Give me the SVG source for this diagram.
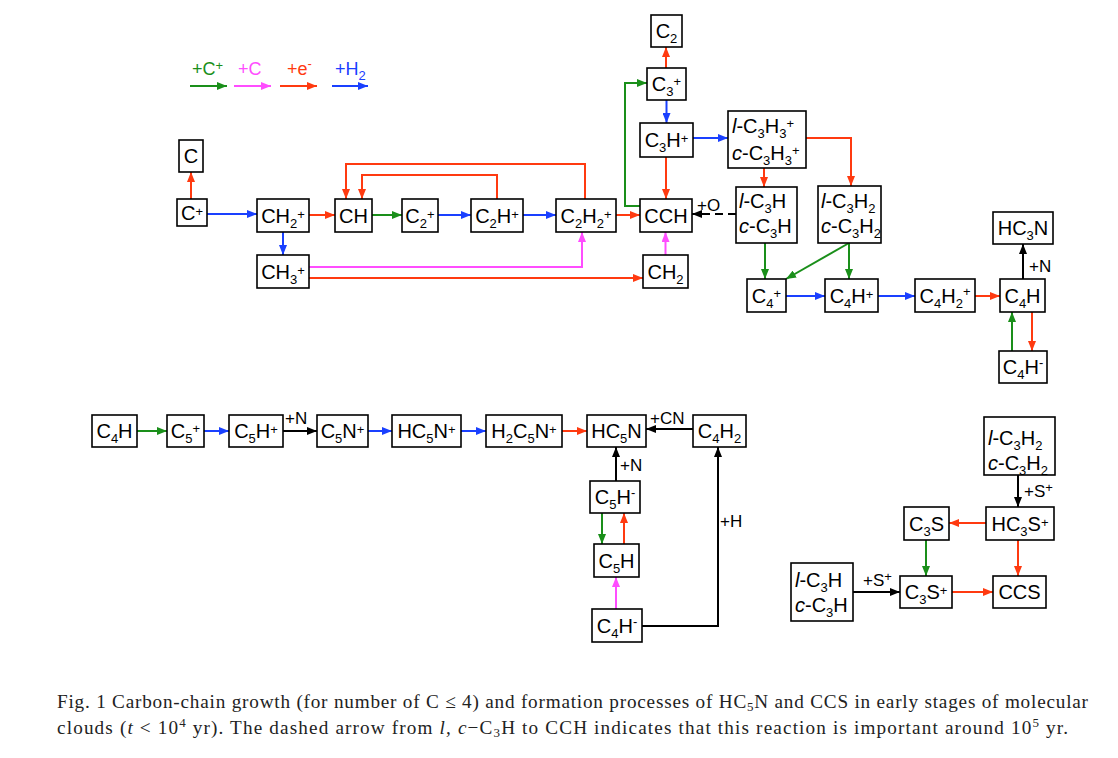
<svg xmlns="http://www.w3.org/2000/svg" width="1118" height="758" viewBox="0 0 1118 758">
<style>
.n{fill:#fff;stroke:#000;stroke-width:1.6}
.t{font-family:"Liberation Sans",Arial,sans-serif;font-size:20px;fill:#000;text-anchor:middle}
.tl{font-family:"Liberation Sans",Arial,sans-serif;font-size:20px;fill:#000}
.s{font-size:13px}
.lb{font-family:"Liberation Sans",Arial,sans-serif;font-size:17px;fill:#000}
.lg{font-family:"Liberation Sans",Arial,sans-serif;font-size:18px}
.cap{font-family:"Liberation Serif","Times New Roman",serif;font-size:19.2px;fill:#222}
.c{fill:none;stroke-width:2}
.g{stroke:#1A8F1A}.r{stroke:#FF3A10}.b{stroke:#1A40FF}.p{stroke:#FF4DFF}.k{stroke:#000}
</style>
<defs>
<marker id="ag" viewBox="0 0 10 8" refX="10" refY="4" markerWidth="10" markerHeight="8" markerUnits="userSpaceOnUse" orient="auto"><path d="M0,0L10,4L0,8z" fill="#1A8F1A"/></marker>
<marker id="ar" viewBox="0 0 10 8" refX="10" refY="4" markerWidth="10" markerHeight="8" markerUnits="userSpaceOnUse" orient="auto"><path d="M0,0L10,4L0,8z" fill="#FF3A10"/></marker>
<marker id="ab" viewBox="0 0 10 8" refX="10" refY="4" markerWidth="10" markerHeight="8" markerUnits="userSpaceOnUse" orient="auto"><path d="M0,0L10,4L0,8z" fill="#1A40FF"/></marker>
<marker id="ap" viewBox="0 0 10 8" refX="10" refY="4" markerWidth="10" markerHeight="8" markerUnits="userSpaceOnUse" orient="auto"><path d="M0,0L10,4L0,8z" fill="#FF4DFF"/></marker>
<marker id="ak" viewBox="0 0 10 8" refX="10" refY="4" markerWidth="10" markerHeight="8" markerUnits="userSpaceOnUse" orient="auto"><path d="M0,0L10,4L0,8z" fill="#000"/></marker>
</defs>
<rect width="1118" height="758" fill="#fff"/>

<g id="legend">
<text class="lg" x="192" y="75" fill="#1A8F1A">+C<tspan class="s" dy="-5">+</tspan></text>
<text class="lg" x="238" y="75" fill="#FF4DFF">+C</text>
<text class="lg" x="287" y="75" fill="#FF3A10">+e<tspan class="s" dy="-7">-</tspan></text>
<text class="lg" x="335" y="75" fill="#1A40FF">+H<tspan class="s" dy="5">2</tspan></text>
<path class="c g" d="M190,86H227" marker-end="url(#ag)"/>
<path class="c p" d="M234,86H271" marker-end="url(#ap)"/>
<path class="c r" d="M280,86H317" marker-end="url(#ar)"/>
<path class="c b" d="M332,86H368" marker-end="url(#ab)"/>
</g>

<g id="connectors">
<path class="c r" d="M191,199V172" marker-end="url(#ar)"/>
<path class="c b" d="M207,214H257" marker-end="url(#ab)"/>
<path class="c r" d="M309,215H335" marker-end="url(#ar)"/>
<path class="c b" d="M283,232V255" marker-end="url(#ab)"/>
<path class="c g" d="M372,215H402" marker-end="url(#ag)"/>
<path class="c b" d="M438,215H471" marker-end="url(#ab)"/>
<path class="c b" d="M523,215H556" marker-end="url(#ab)"/>
<path class="c r" d="M616,215H640" marker-end="url(#ar)"/>
<path class="c r" d="M497,199V175H362V199" marker-end="url(#ar)"/>
<path class="c r" d="M585,199V164H346V199" marker-end="url(#ar)"/>
<path class="c p" d="M309,267H582V232" marker-end="url(#ap)"/>
<path class="c r" d="M309,278H643" marker-end="url(#ar)"/>
<path class="c p" d="M665.5,255V232" marker-end="url(#ap)"/>
<path class="c r" d="M666,157V199" marker-end="url(#ar)"/>
<path class="c g" d="M640,206H625V83H647" marker-end="url(#ag)"/>
<path class="c r" d="M666,68V47" marker-end="url(#ar)"/>
<path class="c b" d="M666.5,100V123" marker-end="url(#ab)"/>
<path class="c b" d="M693,138H728" marker-end="url(#ab)"/>
<path class="c r" d="M764,168V187" marker-end="url(#ar)"/>
<path class="c r" d="M806,138H851V186" marker-end="url(#ar)"/>
<path class="c k" d="M736,214H692" stroke-dasharray="8,5" marker-end="url(#ak)"/>
<path class="c g" d="M765,243V279" marker-end="url(#ag)"/>
<path class="c g" d="M849,243L786,279" marker-end="url(#ag)"/>
<path class="c g" d="M849,243V279" marker-end="url(#ag)"/>
<path class="c b" d="M786,296H825" marker-end="url(#ab)"/>
<path class="c b" d="M878,296H915" marker-end="url(#ab)"/>
<path class="c r" d="M975,296H1000" marker-end="url(#ar)"/>
<path class="c k" d="M1023,279V244" marker-end="url(#ak)"/>
<path class="c g" d="M1012,351V312" marker-end="url(#ag)"/>
<path class="c r" d="M1032,312V351" marker-end="url(#ar)"/>

<path class="c g" d="M137,431H167" marker-end="url(#ag)"/>
<path class="c b" d="M204,431H229" marker-end="url(#ab)"/>
<path class="c k" d="M283,431H317" marker-end="url(#ak)"/>
<path class="c b" d="M368,431H392" marker-end="url(#ab)"/>
<path class="c b" d="M461,431H486" marker-end="url(#ab)"/>
<path class="c r" d="M562,431H587" marker-end="url(#ar)"/>
<path class="c k" d="M693,429H646" marker-end="url(#ak)"/>
<path class="c k" d="M616,481V447" marker-end="url(#ak)"/>
<path class="c g" d="M602,513V544" marker-end="url(#ag)"/>
<path class="c r" d="M624,544V513" marker-end="url(#ar)"/>
<path class="c p" d="M616,609V577" marker-end="url(#ap)"/>
<path class="c k" d="M642,626H718V447" marker-end="url(#ak)"/>

<path class="c k" d="M1018,475V507" marker-end="url(#ak)"/>
<path class="c r" d="M986,523H949" marker-end="url(#ar)"/>
<path class="c g" d="M926,540V576" marker-end="url(#ag)"/>
<path class="c r" d="M1018,540V576" marker-end="url(#ar)"/>
<path class="c r" d="M952,592H993" marker-end="url(#ar)"/>
<path class="c k" d="M853,592H900" marker-end="url(#ak)"/>

<text class="lb" x="697" y="211">+O</text>
<text class="lb" x="1029" y="272">+N</text>
<text class="lb" x="285" y="424">+N</text>
<text class="lb" x="650" y="424">+CN</text>
<text class="lb" x="620" y="471">+N</text>
<text class="lb" x="720" y="527">+H</text>
<text class="lb" x="1024" y="497">+S<tspan class="s" dy="-5">+</tspan></text>
<text class="lb" x="863" y="586">+S<tspan class="s" dy="-5">+</tspan></text>
</g>

<g id="n-C"><rect class="n" x="179" y="140" width="24" height="32"/><text class="t" x="191" y="163">C</text></g>
<g id="n-Cp"><rect class="n" x="177" y="199" width="30" height="27"/><text class="t" x="192" y="220">C<tspan class="s" dy="-4">+</tspan></text></g>
<g id="n-CH2p"><rect class="n" x="257" y="199" width="52" height="33"/><text class="t" x="283" y="223">CH<tspan class="s" dy="5">2</tspan><tspan class="s" dy="-9">+</tspan></text></g>
<g id="n-CH"><rect class="n" x="335" y="199" width="37" height="33"/><text class="t" x="353.5" y="223">CH</text></g>
<g id="n-C2p"><rect class="n" x="402" y="199" width="36" height="33"/><text class="t" x="420" y="223">C<tspan class="s" dy="5">2</tspan><tspan class="s" dy="-9">+</tspan></text></g>
<g id="n-C2Hp"><rect class="n" x="471" y="199" width="52" height="33"/><text class="t" x="497" y="223">C<tspan class="s" dy="5">2</tspan><tspan dy="-5">H</tspan><tspan class="s" dy="-4">+</tspan></text></g>
<g id="n-C2H2p"><rect class="n" x="556" y="199" width="60" height="33"/><text class="t" x="586" y="223">C<tspan class="s" dy="5">2</tspan><tspan dy="-5">H</tspan><tspan class="s" dy="5">2</tspan><tspan class="s" dy="-9">+</tspan></text></g>
<g id="n-CCH"><rect class="n" x="640" y="199" width="52" height="33"/><text class="t" x="666" y="223">CCH</text></g>
<g id="n-CH3p"><rect class="n" x="257" y="255" width="52" height="33"/><text class="t" x="283" y="279">CH<tspan class="s" dy="5">3</tspan><tspan class="s" dy="-9">+</tspan></text></g>
<g id="n-CH2"><rect class="n" x="643" y="255" width="45" height="33"/><text class="t" x="665.5" y="279">CH<tspan class="s" dy="5">2</tspan></text></g>
<g id="n-C2"><rect class="n" x="651" y="15" width="31" height="32"/><text class="t" x="666.5" y="38">C<tspan class="s" dy="5">2</tspan></text></g>
<g id="n-C3p"><rect class="n" x="647" y="68" width="39" height="32"/><text class="t" x="666.5" y="91">C<tspan class="s" dy="5">3</tspan><tspan class="s" dy="-10">+</tspan></text></g>
<g id="n-C3Hp"><rect class="n" x="640" y="123" width="53" height="34"/><text class="t" x="666.5" y="147">C<tspan class="s" dy="5">3</tspan><tspan dy="-5">H</tspan><tspan class="s" dy="-4">+</tspan></text></g>
<g id="n-C3H3p"><rect class="n" x="728" y="111" width="78" height="57"/><text class="tl" x="732" y="133"><tspan font-style="italic">l</tspan>-C<tspan class="s" dy="5">3</tspan><tspan dy="-5">H</tspan><tspan class="s" dy="5">3</tspan><tspan class="s" dy="-10">+</tspan></text><text class="tl" x="732" y="160"><tspan font-style="italic">c</tspan>-C<tspan class="s" dy="5">3</tspan><tspan dy="-5">H</tspan><tspan class="s" dy="5">3</tspan><tspan class="s" dy="-10">+</tspan></text></g>
<g id="n-C3H"><rect class="n" x="736" y="187" width="61" height="56"/><text class="tl" x="739" y="208"><tspan font-style="italic">l</tspan>-C<tspan class="s" dy="5">3</tspan><tspan dy="-5">H</tspan></text><text class="tl" x="739" y="233"><tspan font-style="italic">c</tspan>-C<tspan class="s" dy="5">3</tspan><tspan dy="-5">H</tspan></text></g>
<g id="n-C3H2"><rect class="n" x="818" y="186" width="63" height="57"/><text class="tl" x="821" y="208"><tspan font-style="italic">l</tspan>-C<tspan class="s" dy="5">3</tspan><tspan dy="-5">H</tspan><tspan class="s" dy="5">2</tspan></text><text class="tl" x="821" y="233"><tspan font-style="italic">c</tspan>-C<tspan class="s" dy="5">3</tspan><tspan dy="-5">H</tspan><tspan class="s" dy="5">2</tspan></text></g>
<g id="n-C4p"><rect class="n" x="747" y="279" width="39" height="33"/><text class="t" x="766.5" y="303">C<tspan class="s" dy="5">4</tspan><tspan class="s" dy="-10">+</tspan></text></g>
<g id="n-C4Hp"><rect class="n" x="825" y="279" width="53" height="33"/><text class="t" x="851.5" y="303">C<tspan class="s" dy="5">4</tspan><tspan dy="-5">H</tspan><tspan class="s" dy="-4">+</tspan></text></g>
<g id="n-C4H2p"><rect class="n" x="915" y="279" width="60" height="33"/><text class="t" x="945" y="303">C<tspan class="s" dy="5">4</tspan><tspan dy="-5">H</tspan><tspan class="s" dy="5">2</tspan><tspan class="s" dy="-12">+</tspan></text></g>
<g id="n-C4H"><rect class="n" x="1000" y="279" width="45" height="33"/><text class="t" x="1022.5" y="303">C<tspan class="s" dy="5">4</tspan><tspan dy="-5">H</tspan></text></g>
<g id="n-HC3N"><rect class="n" x="993" y="212" width="60" height="32"/><text class="t" x="1023" y="235">HC<tspan class="s" dy="5">3</tspan><tspan dy="-5">N</tspan></text></g>
<g id="n-C4Hm"><rect class="n" x="999" y="351" width="48" height="32"/><text class="t" x="1023" y="374">C<tspan class="s" dy="5">4</tspan><tspan dy="-5">H</tspan><tspan class="s" dy="-7">-</tspan></text></g>

<g id="n-C4H-b"><rect class="n" x="92" y="415" width="45" height="32"/><text class="t" x="114.5" y="438">C<tspan class="s" dy="5">4</tspan><tspan dy="-5">H</tspan></text></g>
<g id="n-C5p"><rect class="n" x="167" y="415" width="37" height="32"/><text class="t" x="185.5" y="438">C<tspan class="s" dy="5">5</tspan><tspan class="s" dy="-10">+</tspan></text></g>
<g id="n-C5Hp"><rect class="n" x="229" y="415" width="54" height="32"/><text class="t" x="256" y="438">C<tspan class="s" dy="5">5</tspan><tspan dy="-5">H</tspan><tspan class="s" dy="-4">+</tspan></text></g>
<g id="n-C5Np"><rect class="n" x="317" y="415" width="51" height="32"/><text class="t" x="342.5" y="438">C<tspan class="s" dy="5">5</tspan><tspan dy="-5">N</tspan><tspan class="s" dy="-4">+</tspan></text></g>
<g id="n-HC5Np"><rect class="n" x="392" y="415" width="69" height="32"/><text class="t" x="426.5" y="438">HC<tspan class="s" dy="5">5</tspan><tspan dy="-5">N</tspan><tspan class="s" dy="-4">+</tspan></text></g>
<g id="n-H2C5Np"><rect class="n" x="486" y="415" width="76" height="32"/><text class="t" x="524" y="438">H<tspan class="s" dy="5">2</tspan><tspan dy="-5">C</tspan><tspan class="s" dy="5">5</tspan><tspan dy="-5">N</tspan><tspan class="s" dy="-4">+</tspan></text></g>
<g id="n-HC5N"><rect class="n" x="587" y="415" width="59" height="32"/><text class="t" x="616.5" y="438">HC<tspan class="s" dy="5">5</tspan><tspan dy="-5">N</tspan></text></g>
<g id="n-C4H2"><rect class="n" x="693" y="415" width="53" height="32"/><text class="t" x="719.5" y="438">C<tspan class="s" dy="5">4</tspan><tspan dy="-5">H</tspan><tspan class="s" dy="5">2</tspan></text></g>
<g id="n-C5Hm"><rect class="n" x="590" y="481" width="50" height="32"/><text class="t" x="615" y="504">C<tspan class="s" dy="5">5</tspan><tspan dy="-5">H</tspan><tspan class="s" dy="-7">-</tspan></text></g>
<g id="n-C5H"><rect class="n" x="594" y="544" width="45" height="33"/><text class="t" x="616.5" y="568">C<tspan class="s" dy="5">5</tspan><tspan dy="-5">H</tspan></text></g>
<g id="n-C4Hm-b"><rect class="n" x="592" y="609" width="50" height="33"/><text class="t" x="617" y="633">C<tspan class="s" dy="5">4</tspan><tspan dy="-5">H</tspan><tspan class="s" dy="-7">-</tspan></text></g>

<g id="n-C3H2-b"><rect class="n" x="984" y="417" width="71" height="58"/><text class="tl" x="988" y="445"><tspan font-style="italic">l</tspan>-C<tspan class="s" dy="5">3</tspan><tspan dy="-5">H</tspan><tspan class="s" dy="5">2</tspan></text><text class="tl" x="988" y="470"><tspan font-style="italic">c</tspan>-C<tspan class="s" dy="5">3</tspan><tspan dy="-5">H</tspan><tspan class="s" dy="5">2</tspan></text></g>
<g id="n-HC3Sp"><rect class="n" x="986" y="507" width="68" height="33"/><text class="t" x="1020" y="531">HC<tspan class="s" dy="5">3</tspan><tspan dy="-5">S</tspan><tspan class="s" dy="-4">+</tspan></text></g>
<g id="n-C3S"><rect class="n" x="904" y="507" width="45" height="33"/><text class="t" x="926.5" y="531">C<tspan class="s" dy="5">3</tspan><tspan dy="-5">S</tspan></text></g>
<g id="n-C3H-b"><rect class="n" x="791" y="563" width="62" height="58"/><text class="tl" x="795" y="587"><tspan font-style="italic">l</tspan>-C<tspan class="s" dy="5">3</tspan><tspan dy="-5">H</tspan></text><text class="tl" x="795" y="612"><tspan font-style="italic">c</tspan>-C<tspan class="s" dy="5">3</tspan><tspan dy="-5">H</tspan></text></g>
<g id="n-C3Sp"><rect class="n" x="900" y="576" width="52" height="32"/><text class="t" x="926" y="599">C<tspan class="s" dy="5">3</tspan><tspan dy="-5">S</tspan><tspan class="s" dy="-4">+</tspan></text></g>
<g id="n-CCS"><rect class="n" x="993" y="576" width="53" height="32"/><text class="t" x="1019.5" y="599">CCS</text></g>

<g id="caption">
<text class="cap" x="57" y="708" textLength="1031" lengthAdjust="spacing">Fig. 1 Carbon-chain growth (for number of C ≤ 4) and formation processes of HC<tspan font-size="13" dy="3">5</tspan><tspan dy="-3">N and CCS in early stages of molecular</tspan></text>
<text class="cap" x="57" y="734" textLength="1011" lengthAdjust="spacing">clouds (<tspan font-style="italic">t</tspan> &lt; 10<tspan font-size="13" dy="-7">4</tspan><tspan dy="7"> yr). The dashed arrow from </tspan><tspan font-style="italic">l, c</tspan>−C<tspan font-size="13" dy="3">3</tspan><tspan dy="-3">H to CCH indicates that this reaction is important around 10</tspan><tspan font-size="13" dy="-7">5</tspan><tspan dy="7"> yr.</tspan></text>
</g>
</svg>
